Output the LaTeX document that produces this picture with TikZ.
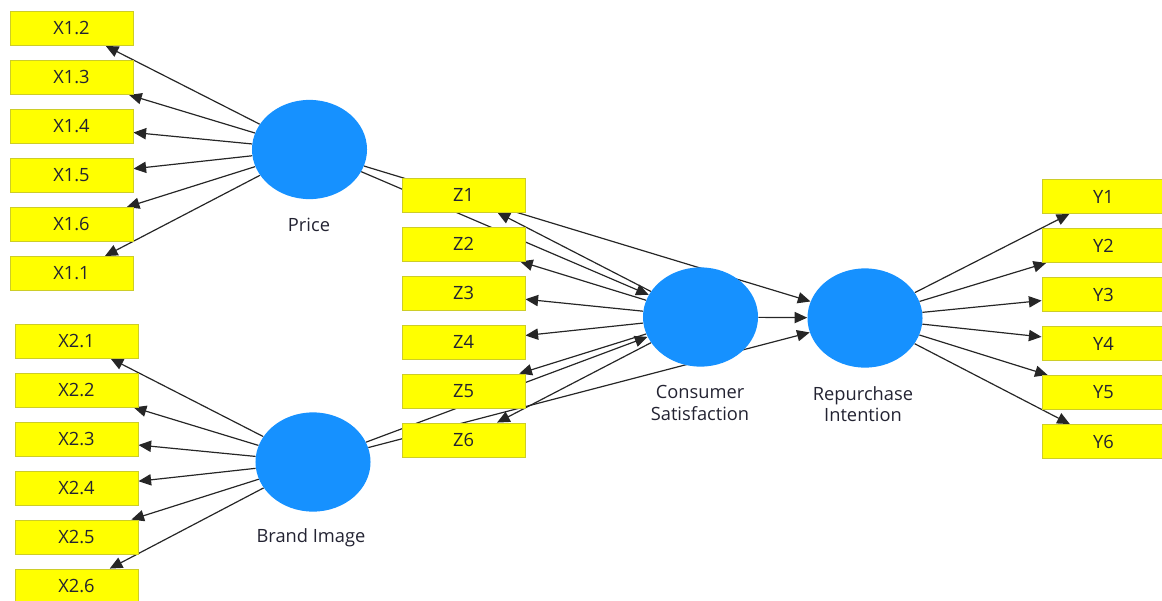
\documentclass[tikz,border=0pt]{standalone}
\usepackage{fontspec}
\setmainfont{Open Sans}
\usetikzlibrary{arrows.meta,backgrounds,shapes.geometric}
\definecolor{amarelo}{RGB}{255,255,0}
\definecolor{bordaAmarela}{RGB}{205,205,40}
\definecolor{azul}{RGB}{22,145,255}
\definecolor{textoEscuro}{RGB}{35,35,50}

\begin{document}
\begin{tikzpicture}[
    x=0.025cm,
    y=-0.025cm,
    every node/.style={font=\fontsize{13}{15}\selectfont, text=textoEscuro},
    indicador/.style={draw=bordaAmarela, fill=amarelo, line width=0.6pt,
        minimum width=3.075cm, minimum height=0.85cm, inner sep=0pt},
    construto/.style={ellipse, fill=azul, minimum width=2.875cm,
        minimum height=2.48cm, inner sep=0pt},
    rotulo/.style={align=center, inner sep=0pt},
    seta/.style={-{Triangle[length=9pt, width=8pt]}, line width=0.85pt, draw=black!85}
]
\useasboundingbox (0,0) rectangle (1162,600);

% Construtos (variáveis latentes):
% dois exógenos à esquerda, satisfação no meio, intenção de recompra à direita.
\node[construto] (preco) at (309.5,149.5) {};
\node[construto] (marca) at (313,462) {};
\node[construto] (satisf) at (700.5,317) {};
\node[construto] (recompra) at (865,318) {};

\node[rotulo] (rotPreco) at (309,225) {Price};
\node[rotulo] (rotMarca) at (311,538) {Brand Image};
\node[rotulo] (rotSatisf) at (700,403) {Consumer\\Satisfaction};
\node[rotulo] (rotRecompra) at (863,404) {Repurchase\\Intention};

% Indicadores de Price:
% coluna à esquerda, na ordem em que aparecem no modelo.
\foreach \nome [count=\i from 0] in {2,3,4,5,6,1}
    \node[indicador] (x1\nome) at (71.5,{28.5+49*\i}) {X1.\nome};

% Indicadores de Brand Image:
% segunda coluna à esquerda, levemente deslocada para a direita.
\foreach \n in {1,...,6}
    \node[indicador] (x2\n) at (76.5,{341+49*(\n-1)}) {X2.\n};

% Indicadores de Consumer Satisfaction:
% coluna central, entre os exógenos e o construto.
\foreach \n in {1,...,6}
    \node[indicador] (z\n) at (463.5,{195+49*(\n-1)}) {Z\n};

% Indicadores de Repurchase Intention:
% coluna na borda direita, cortada pela margem.
\foreach \n in {1,...,6}
    \node[indicador] (y\n) at (1103.5,{196.5+49*(\n-1)}) {Y\n};

% Setas:
% ficam na camada de fundo, para que os caminhos estruturais
% passem por trás das caixas Z.
\begin{scope}[on background layer]
    \foreach \n in {1,...,6} {
        \draw[seta] (preco) -- (x1\n);
        \draw[seta] (marca) -- (x2\n);
        \draw[seta] (satisf) -- (z\n);
        \draw[seta] (recompra) -- (y\n);
    }
    \draw[seta] (preco) -- (satisf);
    \draw[seta] (preco) -- (recompra);
    \draw[seta] (marca) -- (satisf);
    \draw[seta] (marca) -- (recompra);
    \draw[seta] (satisf) -- (recompra);
\end{scope}

\end{tikzpicture}
\end{document}
